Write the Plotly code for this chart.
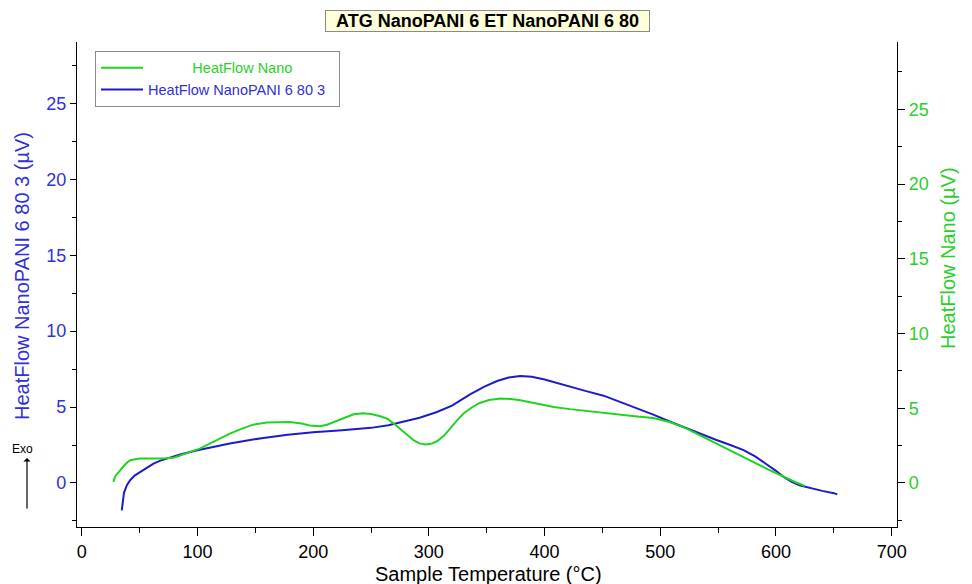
import plotly.graph_objects as go

# ---- data ----
blue_T = [34.6, 35.5, 36.5, 39, 42, 46, 50.5, 56, 62, 68, 74, 85, 99, 115, 128, 143, 157, 178, 200,
          225, 250, 265, 278, 292, 307, 320, 336, 348, 359, 369, 379, 389, 400, 422, 436, 451, 465,
          480, 494, 508, 521, 534, 548, 560, 572, 582, 592, 600, 607, 614, 621, 630, 640, 650, 653]
blue_v = [-1.80, -1.2, -0.65, -0.15, 0.2, 0.5, 0.73, 1.02, 1.28, 1.47, 1.62, 1.88, 2.14, 2.40, 2.60,
          2.80, 2.97, 3.17, 3.34, 3.48, 3.63, 3.80, 4.02, 4.30, 4.68, 5.10, 5.85, 6.35, 6.72, 6.95,
          7.04, 7.00, 6.82, 6.33, 6.05, 5.75, 5.35, 4.90, 4.50, 4.05, 3.65, 3.26, 2.85, 2.52, 2.16,
          1.75, 1.25, 0.80, 0.38, 0.05, -0.17, -0.35, -0.52, -0.67, -0.75]

green_T = [27.3, 28.0, 29, 31, 33, 36, 39, 42, 47, 51, 60, 71, 80, 86, 94, 102, 115, 128, 138, 148,
           160, 170, 180, 190, 197, 206, 212, 218, 226, 235, 243, 250, 258, 264, 271, 278, 283, 287,
           292, 297, 302, 307, 313, 318, 324, 330, 337, 344, 352, 362, 371, 379, 393, 408, 422, 437,
           451, 465, 480, 494, 508, 521, 534, 549, 563, 575, 586, 594, 601, 609, 617, 625]
green_v = [0.07, 0.25, 0.45, 0.65, 0.85, 1.1, 1.35, 1.52, 1.6, 1.63, 1.64, 1.63, 1.7, 1.85, 2.05,
           2.30, 2.8, 3.3, 3.62, 3.90, 4.04, 4.08, 4.08, 3.98, 3.84, 3.80, 3.90, 4.08, 4.35, 4.60,
           4.66, 4.62, 4.46, 4.30, 3.90, 3.41, 3.06, 2.84, 2.65, 2.57, 2.62, 2.79, 3.15, 3.62, 4.15,
           4.65, 5.05, 5.35, 5.55, 5.65, 5.62, 5.54, 5.30, 5.09, 4.94, 4.80, 4.70, 4.58, 4.45, 4.35,
           4.08, 3.70, 3.19, 2.62, 2.07, 1.62, 1.18, 0.88, 0.63, 0.33, 0.05, -0.2]

x_ticks = [0, 100, 200, 300, 400, 500, 600, 700]
y_ticks = [0, 5, 10, 15, 20, 25]

title_text = "ATG NanoPANI 6 ET NanoPANI 6 80"
green_name = "HeatFlow Nano"
blue_name = "HeatFlow NanoPANI 6 80 3"
left_title = "HeatFlow NanoPANI 6 80 3 (µV)"
right_title = "HeatFlow Nano (µV)"
x_title = "Sample Temperature (°C)"

GREEN = "#1fd41f"
BLUE = "#1c1cc8"
GREEN_TXT = "#2ad02a"
BLUE_TXT = "#3030d8"
FONT = "Liberation Sans, Arial, sans-serif"

fig = go.Figure()
pad = "\u00a0" * 11
fig.add_trace(go.Scatter(x=green_T, y=green_v, mode="lines",
                         name=pad + "<span style='color:%s'>%s</span>" % (GREEN_TXT, green_name),
                         line=dict(color=GREEN, width=2), yaxis="y2"))
fig.add_trace(go.Scatter(x=blue_T, y=blue_v, mode="lines",
                         name="<span style='color:%s'>%s</span>" % (BLUE_TXT, blue_name) + "\u00a0\u00a0",
                         line=dict(color=BLUE, width=2), yaxis="y"))

fig.update_layout(
    width=972, height=584,
    margin=dict(l=77, r=75, t=42, b=57),
    paper_bgcolor="white", plot_bgcolor="white",
    font=dict(family=FONT, size=18, color="black"),
    showlegend=True,
    legend=dict(x=0.022, y=0.982, xanchor="left", yanchor="top",
                bgcolor="white", bordercolor="#8a8a8a", borderwidth=1,
                font=dict(size=14.5, family=FONT), traceorder="normal",
                itemwidth=42, tracegroupgap=0),
    xaxis=dict(range=[-4.1, 704.6], tickvals=x_ticks, showgrid=False, zeroline=False,
               showline=True, linecolor="black", linewidth=1.2,
               ticks="outside", ticklen=8, tickcolor="black",
               tickfont=dict(size=18, color="black"),
               minor=dict(dtick=50, ticks="outside", ticklen=5, tickcolor="black")),
    yaxis=dict(range=[-2.9, 29.05], tickvals=y_ticks, showgrid=False, zeroline=False,
               showline=True, linecolor="black", linewidth=1.2,
               ticks="outside", ticklen=6, tickcolor="black",
               tickfont=dict(size=18, color=BLUE_TXT),
               minor=dict(tickvals=[-2.5, 2.5, 7.5, 12.5, 17.5, 22.5, 27.5],
                          ticks="outside", ticklen=4, tickcolor="black")),
    yaxis2=dict(range=[-2.945, 29.5], tickvals=y_ticks, overlaying="y", side="right",
                showgrid=False, zeroline=False,
                showline=True, linecolor="black", linewidth=1.2,
                ticks="outside", ticklen=7, tickcolor="black",
                tickfont=dict(size=18, color=GREEN_TXT),
                minor=dict(tickvals=[-2.5, 2.5, 7.5, 12.5, 17.5, 22.5, 27.5],
                           ticks="outside", ticklen=4, tickcolor="black")),
)

annotations = [
    dict(text="<b>" + "\u00a0\u00a0" + title_text + "\u00a0\u00a0" + "</b>", xref="paper", yref="paper",
         x=(487 - 77) / 820, y=(527 - 21.5) / 485, xanchor="center", yanchor="middle",
         showarrow=False, font=dict(size=18, family=FONT, color="black"),
         bgcolor="#ffffdc", bordercolor="#8a8a8a", borderwidth=1, borderpad=0),
    dict(text=left_title, xref="paper", yref="paper", x=(22 - 77) / 820, y=(527 - 276) / 485,
         xanchor="center", yanchor="middle", textangle=-90, showarrow=False,
         font=dict(size=20, family=FONT, color=BLUE_TXT)),
    dict(text=right_title, xref="paper", yref="paper", x=(948 - 77) / 820, y=(527 - 258) / 485,
         xanchor="center", yanchor="middle", textangle=-90, showarrow=False,
         font=dict(size=20, family=FONT, color=GREEN_TXT)),
    dict(text=x_title, xref="paper", yref="paper", x=(488 - 77) / 820, y=(527 - 574) / 485,
         xanchor="center", yanchor="middle", showarrow=False,
         font=dict(size=20, family=FONT, color="black")),
    dict(text="Exo", xref="paper", yref="paper", x=(22 - 77) / 820, y=(527 - 449) / 485,
         xanchor="center", yanchor="middle", showarrow=False,
         font=dict(size=12, family=FONT, color="black")),
    dict(text="", xref="paper", yref="paper", x=(27 - 77) / 820, y=(527 - 458) / 485,
         ax=0, ay=52, showarrow=True, arrowhead=1, arrowsize=1, arrowwidth=1.2,
         arrowcolor="black"),
]
fig.update_layout(annotations=annotations)

fig.write_html("out.html")
